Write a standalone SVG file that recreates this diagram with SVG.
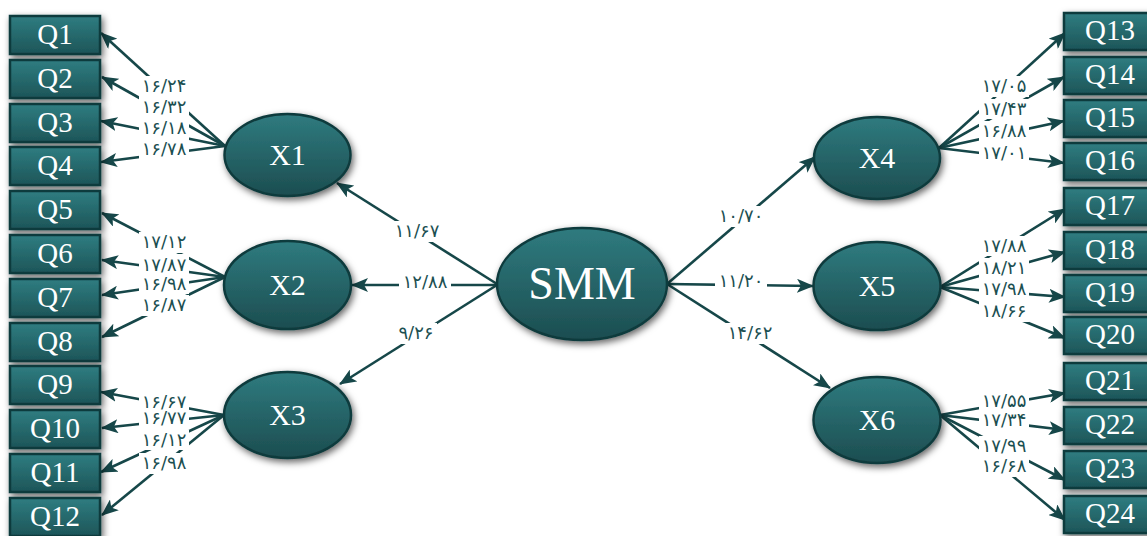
<svg xmlns="http://www.w3.org/2000/svg" width="1147" height="536" viewBox="0 0 1147 536">
<defs>
<style>
.box{fill:url(#gb);stroke:#113b3d;stroke-width:2.5;filter:url(#sh)}
.ell{fill:url(#ge);stroke:#113b3d;stroke-width:2.5;filter:url(#sh)}
.qt{font-family:"Liberation Serif",serif;font-size:29px;fill:#ffffff;text-anchor:middle}
.xt{font-family:"Liberation Serif",serif;font-size:30px;fill:#ffffff;text-anchor:middle}
.ln{stroke:#164749;stroke-width:2.6;fill:none}
.ar{marker-end:url(#ah)}
.lb{font-family:"DejaVu Sans",sans-serif;font-size:18px;letter-spacing:1px;fill:#1b4f51;text-anchor:middle}
.bg{fill:#ffffff}
</style>
<linearGradient id="gb" x1="0" y1="0" x2="0" y2="1"><stop offset="0" stop-color="#2f7d81"/><stop offset="1" stop-color="#1d5558"/></linearGradient>
<linearGradient id="ge" x1="0" y1="0" x2="0" y2="1"><stop offset="0" stop-color="#2f7b7f"/><stop offset="1" stop-color="#1c4d50"/></linearGradient>
<filter id="sh" x="-20%" y="-30%" width="150%" height="170%"><feDropShadow dx="2" dy="3" stdDeviation="3.5" flood-color="#000" flood-opacity="0.6"/></filter>
<marker id="ah" markerUnits="userSpaceOnUse" markerWidth="18" markerHeight="14" refX="16" refY="7" orient="auto"><path d="M0,0 L17,7 L0,14 L4,7 z" fill="#164749"/></marker>
</defs>
<g id="connectors">
<line class="ln ar" x1="225" y1="146" x2="101" y2="33"/>
<line class="ln ar" x1="225" y1="146" x2="102" y2="77"/>
<line class="ln ar" x1="225" y1="146" x2="101" y2="121"/>
<line class="ln ar" x1="225" y1="146" x2="101" y2="162"/>
<line class="ln ar" x1="225" y1="277" x2="102" y2="213"/>
<line class="ln ar" x1="225" y1="277" x2="102" y2="260"/>
<line class="ln ar" x1="225" y1="277" x2="102" y2="295"/>
<line class="ln ar" x1="225" y1="277" x2="102" y2="337"/>
<line class="ln ar" x1="224" y1="415" x2="101" y2="392"/>
<line class="ln ar" x1="224" y1="415" x2="102" y2="428"/>
<line class="ln ar" x1="224" y1="415" x2="101" y2="472"/>
<line class="ln ar" x1="224" y1="415" x2="102" y2="515"/>
<line class="ln ar" x1="497" y1="284" x2="337" y2="183"/>
<line class="ln ar" x1="497" y1="285" x2="352" y2="285"/>
<line class="ln ar" x1="497" y1="285" x2="340" y2="384"/>
<line class="ln ar" x1="667" y1="284" x2="815" y2="157"/>
<line class="ln ar" x1="667" y1="284" x2="813" y2="286"/>
<line class="ln ar" x1="667" y1="284" x2="830" y2="388"/>
<line class="ln ar" x1="939" y1="148" x2="1065" y2="33"/>
<line class="ln ar" x1="939" y1="148" x2="1064" y2="77"/>
<line class="ln ar" x1="939" y1="148" x2="1064" y2="121"/>
<line class="ln ar" x1="939" y1="148" x2="1064" y2="163"/>
<line class="ln ar" x1="940" y1="287" x2="1065" y2="209"/>
<line class="ln ar" x1="940" y1="287" x2="1065" y2="252"/>
<line class="ln ar" x1="940" y1="287" x2="1065" y2="297"/>
<line class="ln ar" x1="940" y1="287" x2="1065" y2="338"/>
<line class="ln ar" x1="940" y1="415" x2="1065" y2="393"/>
<line class="ln ar" x1="940" y1="415" x2="1065" y2="430"/>
<line class="ln ar" x1="940" y1="415" x2="1065" y2="480"/>
<line class="ln ar" x1="940" y1="415" x2="1065" y2="520"/>
<g id="labels">
<rect class="bg" x="139" y="76" width="50" height="21"/><text class="lb" x="164" y="92">۱۶/۲۴</text>
<rect class="bg" x="139" y="97" width="50" height="21"/><text class="lb" x="164" y="113">۱۶/۳۲</text>
<rect class="bg" x="139" y="118" width="50" height="21"/><text class="lb" x="164" y="134">۱۶/۱۸</text>
<rect class="bg" x="139" y="139" width="50" height="20"/><text class="lb" x="164" y="155">۱۶/۷۸</text>
<rect class="bg" x="139" y="232" width="50" height="21"/><text class="lb" x="164" y="248">۱۷/۱۲</text>
<rect class="bg" x="139" y="254" width="50" height="20"/><text class="lb" x="164" y="271">۱۷/۸۷</text>
<rect class="bg" x="139" y="274" width="50" height="20"/><text class="lb" x="164" y="290">۱۶/۹۸</text>
<rect class="bg" x="139" y="295" width="50" height="21"/><text class="lb" x="164" y="311">۱۶/۸۷</text>
<rect class="bg" x="139" y="393" width="50" height="17"/><text class="lb" x="164" y="408">۱۶/۶۷</text>
<rect class="bg" x="139" y="410" width="50" height="19"/><text class="lb" x="164" y="424">۱۶/۷۷</text>
<rect class="bg" x="139" y="430" width="50" height="20"/><text class="lb" x="164" y="446">۱۶/۱۲</text>
<rect class="bg" x="139" y="453" width="50" height="21"/><text class="lb" x="164" y="469">۱۶/۹۸</text>
<rect class="bg" x="391" y="221" width="52" height="21"/><text class="lb" x="417" y="237">۱۱/۶۷</text>
<rect class="bg" x="399" y="272" width="52" height="21"/><text class="lb" x="425" y="288">۱۲/۸۸</text>
<rect class="bg" x="395" y="323" width="42" height="21"/><text class="lb" x="416" y="339">۹/۲۶</text>
<rect class="bg" x="715" y="206" width="52" height="21"/><text class="lb" x="741" y="222">۱۰/۷۰</text>
<rect class="bg" x="715" y="271" width="52" height="21"/><text class="lb" x="741" y="287">۱۱/۲۰</text>
<rect class="bg" x="724" y="323" width="52" height="21"/><text class="lb" x="750" y="339">۱۴/۶۲</text>
<rect class="bg" x="979" y="76" width="50" height="21"/><text class="lb" x="1004" y="92">۱۷/۰۵</text>
<rect class="bg" x="979" y="99" width="50" height="20"/><text class="lb" x="1004" y="115">۱۷/۴۳</text>
<rect class="bg" x="979" y="121" width="50" height="20"/><text class="lb" x="1004" y="137">۱۶/۸۸</text>
<rect class="bg" x="979" y="143" width="50" height="20"/><text class="lb" x="1004" y="159">۱۷/۰۱</text>
<rect class="bg" x="979" y="236" width="50" height="20"/><text class="lb" x="1004" y="252">۱۷/۸۸</text>
<rect class="bg" x="979" y="258" width="50" height="20"/><text class="lb" x="1004" y="274">۱۸/۲۱</text>
<rect class="bg" x="979" y="279" width="50" height="20"/><text class="lb" x="1004" y="295">۱۷/۹۸</text>
<rect class="bg" x="979" y="301" width="50" height="21"/><text class="lb" x="1004" y="317">۱۸/۶۶</text>
<rect class="bg" x="979" y="391" width="50" height="20"/><text class="lb" x="1004" y="407">۱۷/۵۵</text>
<rect class="bg" x="979" y="411" width="50" height="19"/><text class="lb" x="1004" y="426">۱۷/۳۴</text>
<rect class="bg" x="979" y="436" width="50" height="20"/><text class="lb" x="1004" y="452">۱۷/۹۹</text>
<rect class="bg" x="979" y="456" width="50" height="21"/><text class="lb" x="1004" y="472">۱۶/۶۸</text>
</g>
</g>
<g id="Q1"><rect class="box" x="10" y="16" width="90" height="38"/><text class="qt" x="55" y="44">Q1</text></g>
<g id="Q2"><rect class="box" x="10" y="60" width="90" height="38"/><text class="qt" x="55" y="88">Q2</text></g>
<g id="Q3"><rect class="box" x="10" y="104" width="90" height="38"/><text class="qt" x="55" y="132">Q3</text></g>
<g id="Q4"><rect class="box" x="10" y="147" width="90" height="38"/><text class="qt" x="55" y="175">Q4</text></g>
<g id="Q5"><rect class="box" x="10" y="191" width="90" height="38"/><text class="qt" x="55" y="219">Q5</text></g>
<g id="Q6"><rect class="box" x="10" y="235" width="90" height="38"/><text class="qt" x="55" y="263">Q6</text></g>
<g id="Q7"><rect class="box" x="10" y="279" width="90" height="38"/><text class="qt" x="55" y="307">Q7</text></g>
<g id="Q8"><rect class="box" x="10" y="323" width="90" height="38"/><text class="qt" x="55" y="351">Q8</text></g>
<g id="Q9"><rect class="box" x="10" y="366" width="90" height="38"/><text class="qt" x="55" y="394">Q9</text></g>
<g id="Q10"><rect class="box" x="10" y="410" width="90" height="38"/><text class="qt" x="55" y="438">Q10</text></g>
<g id="Q11"><rect class="box" x="10" y="454" width="90" height="38"/><text class="qt" x="55" y="482">Q11</text></g>
<g id="Q12"><rect class="box" x="10" y="498" width="90" height="38"/><text class="qt" x="55" y="526">Q12</text></g>
<g id="Q13"><rect class="box" x="1064" y="13" width="92" height="37"/><text class="qt" x="1110" y="40">Q13</text></g>
<g id="Q14"><rect class="box" x="1064" y="57" width="92" height="37"/><text class="qt" x="1110" y="84">Q14</text></g>
<g id="Q15"><rect class="box" x="1064" y="100" width="92" height="37"/><text class="qt" x="1110" y="127">Q15</text></g>
<g id="Q16"><rect class="box" x="1064" y="143" width="92" height="37"/><text class="qt" x="1110" y="170">Q16</text></g>
<g id="Q17"><rect class="box" x="1064" y="188" width="92" height="37"/><text class="qt" x="1110" y="215">Q17</text></g>
<g id="Q18"><rect class="box" x="1064" y="232" width="92" height="37"/><text class="qt" x="1110" y="259">Q18</text></g>
<g id="Q19"><rect class="box" x="1064" y="275" width="92" height="37"/><text class="qt" x="1110" y="302">Q19</text></g>
<g id="Q20"><rect class="box" x="1064" y="317" width="92" height="37"/><text class="qt" x="1110" y="344">Q20</text></g>
<g id="Q21"><rect class="box" x="1064" y="363" width="92" height="37"/><text class="qt" x="1110" y="390">Q21</text></g>
<g id="Q22"><rect class="box" x="1064" y="407" width="92" height="37"/><text class="qt" x="1110" y="434">Q22</text></g>
<g id="Q23"><rect class="box" x="1064" y="451" width="92" height="37"/><text class="qt" x="1110" y="478">Q23</text></g>
<g id="Q24"><rect class="box" x="1064" y="496" width="92" height="37"/><text class="qt" x="1110" y="523">Q24</text></g>
<g id="X1"><ellipse class="ell" cx="287.5" cy="155" rx="63" ry="41"/><text class="xt" x="287.5" y="165">X1</text></g>
<g id="X2"><ellipse class="ell" cx="287.5" cy="285" rx="63.5" ry="44"/><text class="xt" x="287.5" y="295">X2</text></g>
<g id="X3"><ellipse class="ell" cx="287.5" cy="415" rx="63.5" ry="43"/><text class="xt" x="287.5" y="425">X3</text></g>
<g id="SMM"><ellipse class="ell" cx="582" cy="284" rx="85" ry="56"/><text class="xt" x="582" y="299" style="font-size:46px">SMM</text></g>
<g id="X4"><ellipse class="ell" cx="877" cy="158" rx="63" ry="41"/><text class="xt" x="877" y="168">X4</text></g>
<g id="X5"><ellipse class="ell" cx="877" cy="286" rx="63.5" ry="44"/><text class="xt" x="877" y="296">X5</text></g>
<g id="X6"><ellipse class="ell" cx="877" cy="420" rx="63.5" ry="43"/><text class="xt" x="877" y="430">X6</text></g>
</svg>
